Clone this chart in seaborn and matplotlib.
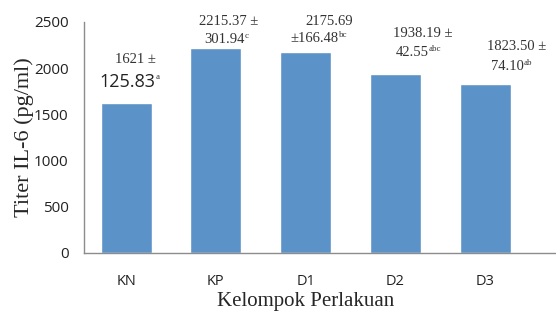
import matplotlib
matplotlib.use("Agg")
import matplotlib.pyplot as plt
import pandas as pd
import seaborn as sns

# data
groups = ["KN", "KP", "D1", "D2", "D3"]
means = [1621, 2215.37, 2175.69, 1938.19, 1823.50]
line1 = ["1621 ±", "2215.37 ±", "2175.69", "1938.19 ±", "1823.50 ±"]
line2 = ["125.83", "301.94", "±166.48", "42.55", "74.10"]
letters = ["a", "c", "bc", "abc", "ab"]

# label placement (pixels, relative to bar top centre)
off2 = [(1, 21), (9, 9), (9, 13), (17, 21), (22, 18)]
off1 = [(9, 44), (13, 27), (24, 30), (27, 40), (32, 38)]

sns.set_style("white")
plt.rcParams["font.family"] = ["Open Sans", "DejaVu Sans"]

df = pd.DataFrame({"group": groups, "titer": means})

fig = plt.figure(figsize=(5.56, 3.11), dpi=100)
ax = fig.add_axes([0.151, 0.1865, 0.849, 0.7428])
sns.barplot(data=df, x="group", y="titer", color="#5b92c8", saturation=1,
            width=0.57, ax=ax)

ax.set_xlim(-0.47, 4.79)
ax.set_ylim(0, 2500)
ax.set_yticks([0, 500, 1000, 1500, 2000, 2500])
ax.tick_params(axis="y", length=0, pad=11, labelsize=11, labelcolor="#222222")
ax.tick_params(axis="x", length=0, pad=15, labelsize=10.5, labelcolor="#222222")
for s in ["top", "right"]:
    ax.spines[s].set_visible(False)
for s in ["left", "bottom"]:
    ax.spines[s].set_color("#8c8c8c")
    ax.spines[s].set_linewidth(1)

ax.set_ylabel("Titer IL-6 (pg/ml)", family="Liberation Serif", fontsize=16, labelpad=0)
ax.set_xlabel("Kelompok Perlakuan", family="Liberation Serif", fontsize=15)
ax.xaxis.set_label_coords(0.47, -0.17)

for i, m in enumerate(means):
    ax.annotate(line1[i], xy=(i, m), xytext=off1[i], textcoords="offset pixels",
                ha="center", va="center", family="Liberation Serif",
                fontsize=10.5, color="#333333")
    if i == 0:
        t2 = ax.annotate(line2[i], xy=(i, m), xytext=off2[i], textcoords="offset pixels",
                         ha="center", va="center", fontsize=13, color="#222222")
    else:
        t2 = ax.annotate(line2[i], xy=(i, m), xytext=off2[i], textcoords="offset pixels",
                         ha="center", va="center", family="Liberation Serif",
                         fontsize=10.5, color="#333333")
    ax.annotate(letters[i], xy=(1, 0.78), xycoords=t2, ha="left", va="center",
                family="Liberation Serif", fontsize=6.5, color="#333333")

fig.savefig("out.png", dpi=100)
